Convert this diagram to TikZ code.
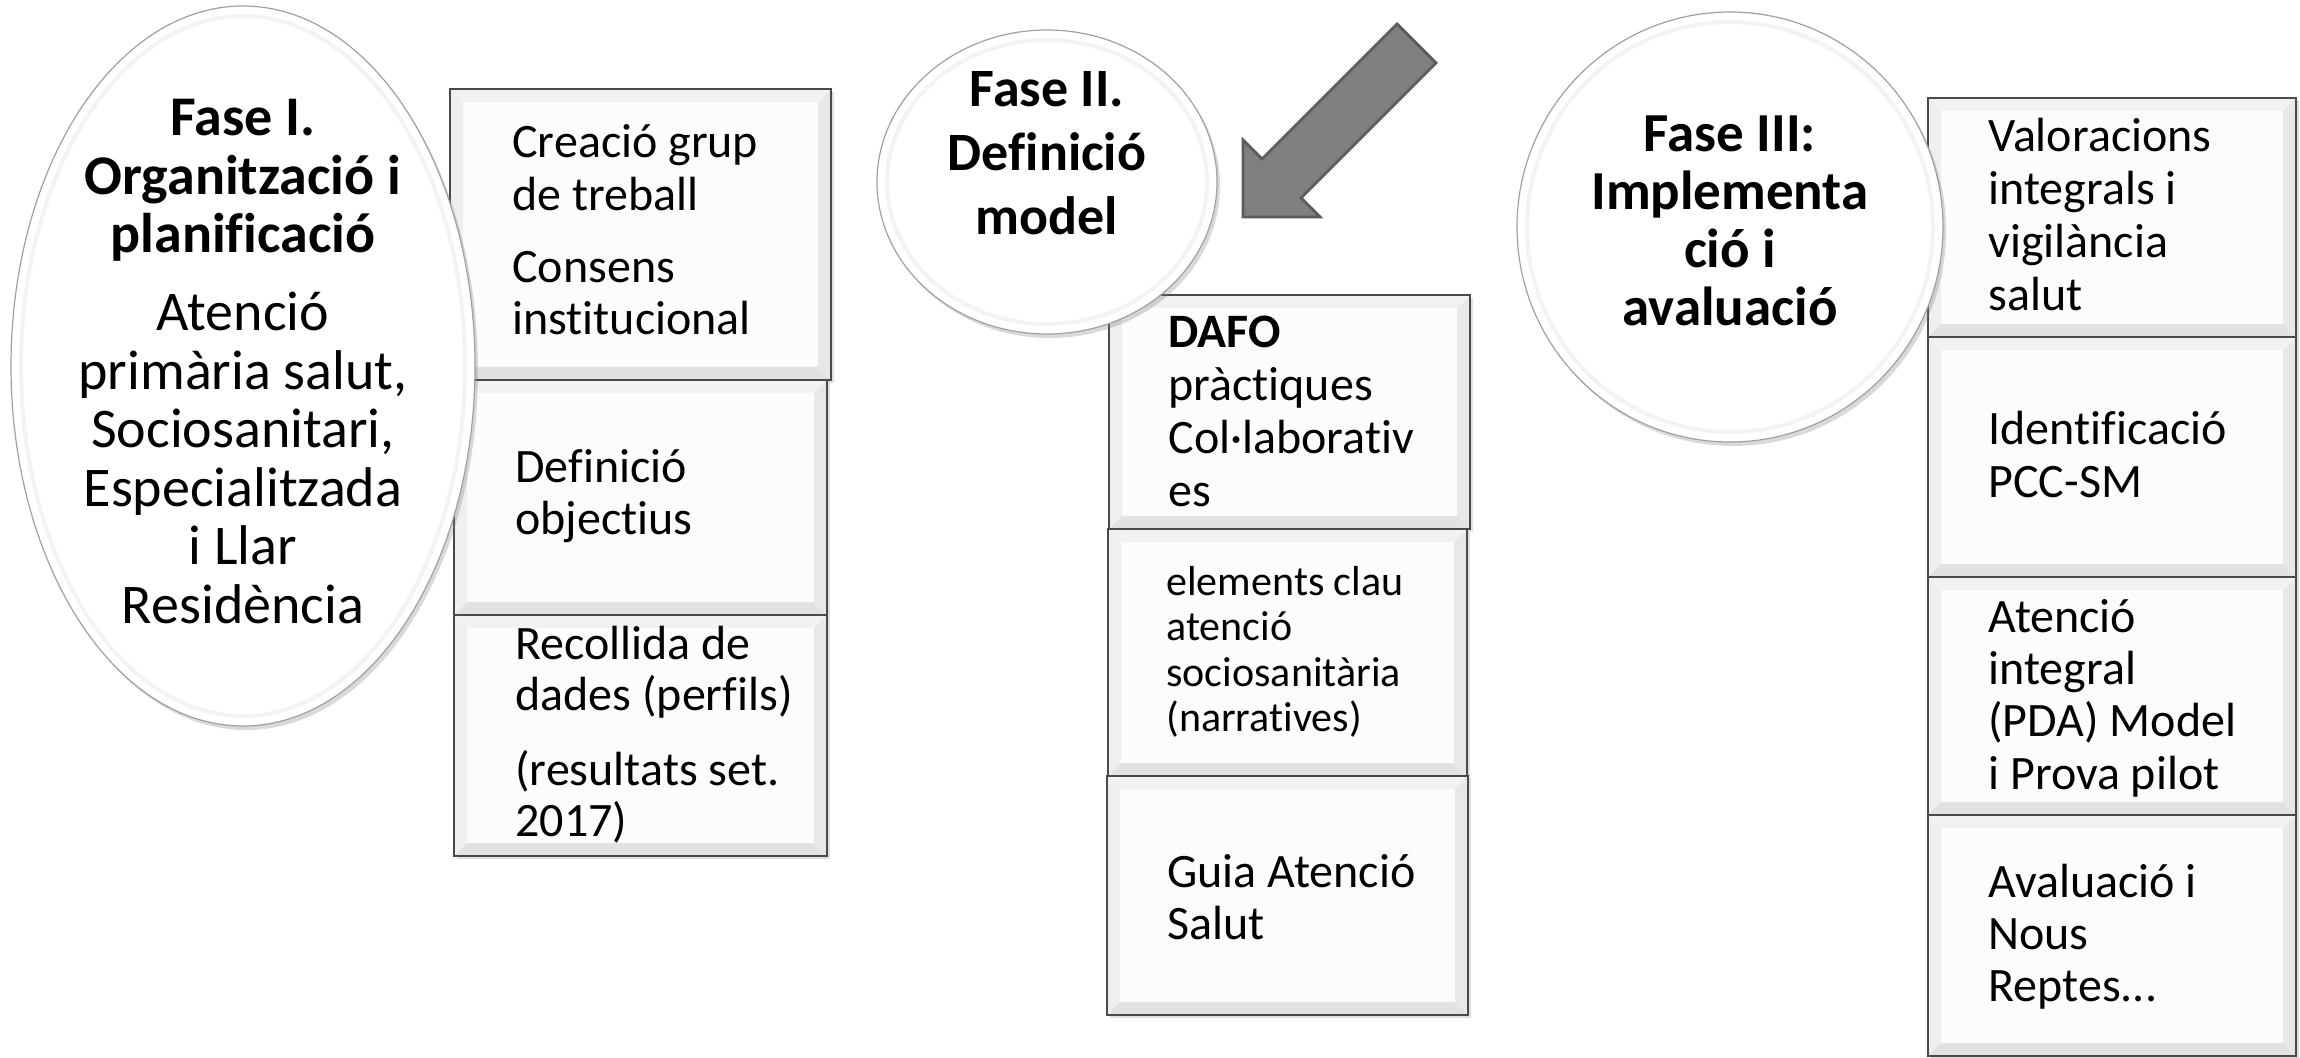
\documentclass[tikz,border=0pt]{standalone}
\usepackage{fontspec}
\setmainfont{Carlito}[Ligatures={NoCommon,NoRequired,NoContextual}]
\usetikzlibrary{shapes.geometric,shadows,fit}
\definecolor{boxline}{HTML}{4A4A4A}
\definecolor{boxface}{HTML}{FCFCFC}
\definecolor{bevtop}{HTML}{F2F2F2}
\definecolor{bevleft}{HTML}{EFEFEF}
\definecolor{bevbot}{HTML}{E2E2E2}
\definecolor{bevright}{HTML}{E8E8E8}
\definecolor{ellline}{HTML}{A0A0A0}
\definecolor{ellring}{HTML}{F3F3F3}
\definecolor{arrowfill}{HTML}{7F7F7F}
\definecolor{arrowline}{HTML}{5C5C5C}
\newcommand\bevelcut[1]{%
  \fill[bevtop] (#1.north west) -- (#1.north east) -- ([shift={(-13,13)}]#1.north east) -- ([shift={(13,13)}]#1.north west) -- cycle;
  \fill[bevleft] (#1.north west) -- ([shift={(13,13)}]#1.north west) -- ([shift={(13,-13)}]#1.south west) -- (#1.south west) -- cycle;
  \fill[bevbot] (#1.south west) -- ([shift={(13,-13)}]#1.south west) -- ([shift={(-13,-13)}]#1.south east) -- (#1.south east) -- cycle;
  \fill[bevright] (#1.south east) -- ([shift={(-13,-13)}]#1.south east) -- ([shift={(-13,13)}]#1.north east) -- (#1.north east) -- cycle;
  \draw[boxline, line width=1.1pt] (#1.north west) rectangle (#1.south east);}
\tikzset{
  bx/.style={rectangle, inner sep=0pt, outer sep=0pt, fill=boxface,
    drop shadow={shadow xshift=1.5pt, shadow yshift=-1.5pt, opacity=0.25}},
  ell/.style={ellipse, inner sep=0pt, outer sep=0pt, fill=white, draw=ellline, line width=0.6pt,
    drop shadow={shadow xshift=1.5pt, shadow yshift=-2pt, opacity=0.3}},
  ring/.style={draw=ellring, line width=2pt},
  tx/.style={inner sep=0pt, anchor=base west, font=\fontsize{24}{26.25}\selectfont},
  etx/.style={inner sep=0pt, anchor=base, font=\fontsize{28}{29.25}\selectfont},
}
\begin{document}
\begin{tikzpicture}[x=0.5pt,y=-0.5pt]
\useasboundingbox (0,0) rectangle (2300,1058);
% column 1 boxes
\node[bx, fit={(450,89) (831,380)}] (b11) {}; \bevelcut{b11}
\node[bx, fit={(454,380) (827,615)}] (b12) {}; \bevelcut{b12}
\node[bx, fit={(454,615) (827,856)}] (b13) {}; \bevelcut{b13}
% column 2 boxes
\node[bx, fit={(1109,295) (1470,529)}] (b21) {}; \bevelcut{b21}
\node[bx, fit={(1108,529) (1467,776)}] (b22) {}; \bevelcut{b22}
\node[bx, fit={(1107,776) (1468,1015)}] (b23) {}; \bevelcut{b23}
% column 3 boxes
\node[bx, fit={(1928,98) (2296,337)}] (b31) {}; \bevelcut{b31}
\node[bx, fit={(1928,337) (2296,577)}] (b32) {}; \bevelcut{b32}
\node[bx, fit={(1928,577) (2296,815)}] (b33) {}; \bevelcut{b33}
\node[bx, fit={(1928,815) (2296,1056)}] (b34) {}; \bevelcut{b34}
% ellipses
\node[ell, minimum width=232pt, minimum height=360pt] (e1) at (243,366) {};
\draw[ring] (e1.center) ellipse [x radius=222, y radius=350];
\node[ell, minimum width=170pt, minimum height=152pt] (e2) at (1047,182) {};
\draw[ring] (e2.center) ellipse [x radius=160, y radius=142];
\node[ell, minimum width=213pt, minimum height=215pt] (e3) at (1730,227) {};
\draw[ring] (e3.center) ellipse [x radius=203, y radius=205];
% arrow
\path[fill=arrowfill, draw=arrowline, line width=1.4pt, line join=miter]
  (1397,24) -- (1436,63) -- (1301,198) -- (1320,217) -- (1243,217) -- (1243,140) -- (1262,159) -- cycle;
% ellipse texts
\node[etx] (t1) at (243,136) {\begin{tabular}[t]{@{}c@{}}\bfseries Fase I.\\ \bfseries Organització i\\ \bfseries planificació\\[9.75pt] Atenció\\ primària salut,\\ Sociosanitari,\\ Especialitzada\\ i Llar\\ Residència\end{tabular}};
\node[etx, font=\fontsize{27}{32}\selectfont\bfseries] (t2) at (1047,107) {\begin{tabular}[t]{@{}c@{}}Fase II.\\ Definició\\ model\end{tabular}};
\node[etx, font=\fontsize{27.5}{28.85}\selectfont\bfseries] (t3) at (1730,152) {\begin{tabular}[t]{@{}c@{}}Fase III:\\ Implementa\\ ció i\\ avaluació\end{tabular}};
% column 1 texts
\node[tx] (t11) at (512,158) {\begin{tabular}[t]{@{}l@{}}Creació grup\\ de treball\\[9.75pt] Consens\\ institucional\end{tabular}};
\node[tx] (t12) at (515,482) {\begin{tabular}[t]{@{}l@{}}Definició\\ objectius\end{tabular}};
\node[tx, font=\fontsize{24}{25.5}\selectfont] (t13) at (515,659) {\begin{tabular}[t]{@{}l@{}}Recollida de\\ dades (perfils)\\[12pt] (resultats set.\\ 2017)\end{tabular}};
% column 2 texts
\node[tx, font=\fontsize{24}{26.5}\selectfont] (t21) at (1168,348) {\begin{tabular}[t]{@{}l@{}}\bfseries DAFO\\ pràctiques\\ Col·laborativ\\ es\end{tabular}};
\node[tx, font=\fontsize{21}{22.75}\selectfont] (t22) at (1166,595) {\begin{tabular}[t]{@{}l@{}}elements clau\\ atenció\\ sociosanitària\\ (narratives)\end{tabular}};
\node[tx, font=\fontsize{24}{26}\selectfont] (t23) at (1167,887) {\begin{tabular}[t]{@{}l@{}}Guia Atenció\\ Salut\end{tabular}};
% column 3 texts
\node[tx, font=\fontsize{24}{26.4}\selectfont] (t31) at (1988,152) {\begin{tabular}[t]{@{}l@{}}Valoracions\\ integrals i\\ vigilància\\ salut\end{tabular}};
\node[tx, font=\fontsize{24}{26.4}\selectfont] (t32) at (1988,445) {\begin{tabular}[t]{@{}l@{}}Identificació\\ PCC-SM\end{tabular}};
\node[tx, font=\fontsize{24}{26.2}\selectfont] (t33) at (1988,632) {\begin{tabular}[t]{@{}l@{}}Atenció\\ integral\\ (PDA) Model\\ i Prova pilot\end{tabular}};
\node[tx, font=\fontsize{24}{26}\selectfont] (t34) at (1988,897) {\begin{tabular}[t]{@{}l@{}}Avaluació i\\ Nous\\ Reptes...\end{tabular}};
\end{tikzpicture}
\end{document}
